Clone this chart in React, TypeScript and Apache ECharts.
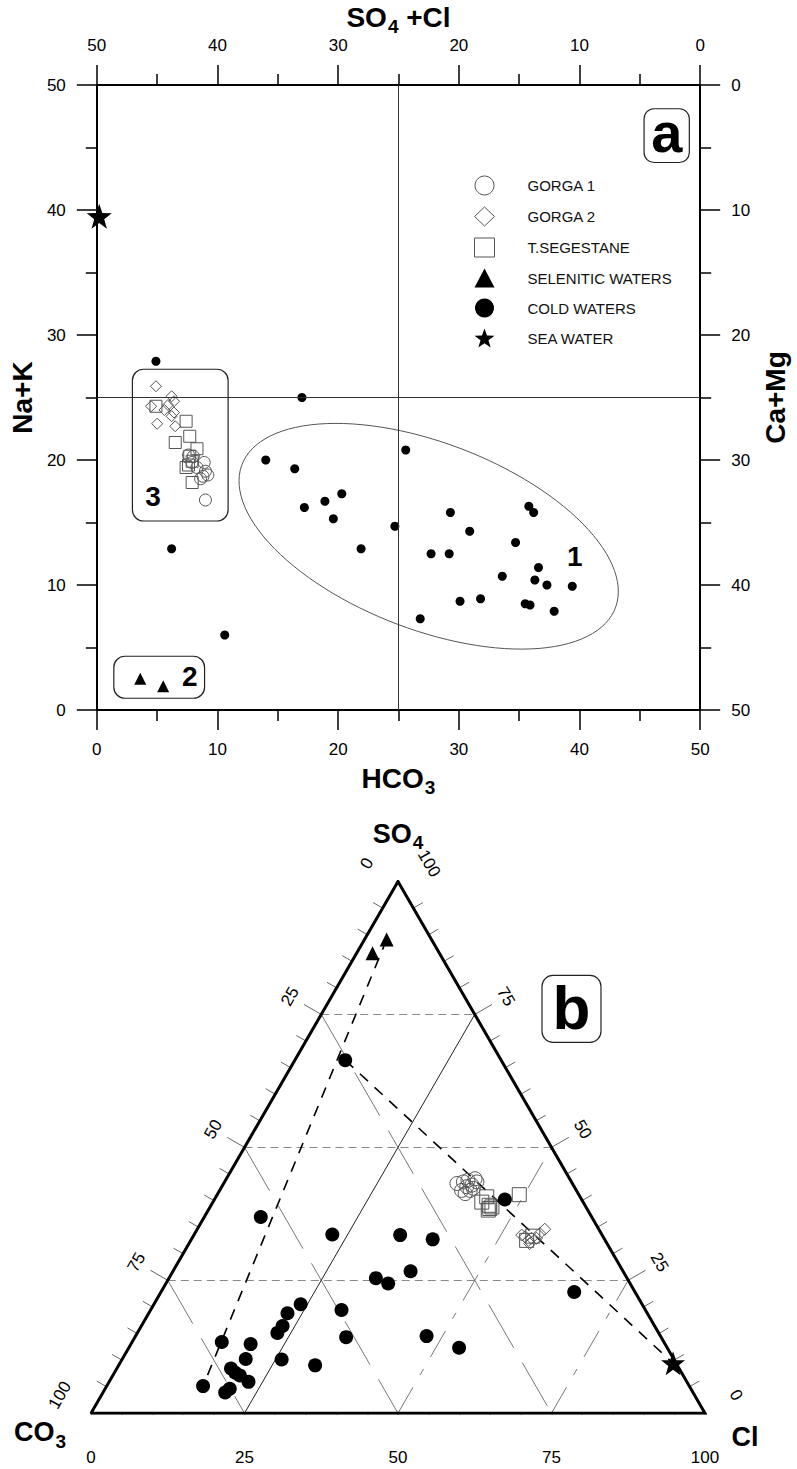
import React, { useEffect, useRef } from "react";
import * as echarts from "echarts";

const FONT = '"Liberation Sans", Arial, Helvetica, sans-serif';

// ---------------- Panel (a): Langelier-Ludwig diagram, points as [HCO3, Na+K] ----------------
const gorga1A = [[7.6, 20.4], [8.0, 20.3], [8.9, 19.8], [9.2, 18.8], [8.8, 18.7], [9.0, 19.1], [9.0, 16.8], [7.9, 19.8], [8.6, 18.5], [8.3, 19.4]];
const gorga2A = [[4.9, 25.9], [6.2, 25.1], [6.4, 24.7], [4.5, 24.3], [5.9, 24.4], [6.4, 23.8], [5.0, 22.9], [6.5, 22.7], [6.2, 23.5], [5.6, 24.0]];
const segestaneA = [[4.9, 24.3], [7.4, 23.1], [7.7, 21.9], [6.5, 21.4], [8.3, 20.9], [7.7, 20.3], [7.9, 19.9], [7.6, 19.6], [7.9, 18.2], [7.4, 19.4]];
const seleniticA = [[3.6, 2.5], [5.5, 1.9]];
const coldA = [
  [4.9, 27.9], [6.2, 12.9], [10.6, 6.0], [14.0, 20.0], [17.0, 25.0],
  [16.4, 19.3], [17.2, 16.2], [18.9, 16.7], [20.3, 17.3], [19.6, 15.3], [21.9, 12.9], [24.7, 14.7],
  [25.6, 20.8], [26.8, 7.3], [27.7, 12.5], [29.2, 12.5], [29.3, 15.8], [30.1, 8.7], [30.9, 14.3],
  [31.8, 8.9], [33.6, 10.7], [34.7, 13.4], [35.8, 16.3], [36.2, 15.8], [36.6, 11.4], [36.3, 10.4],
  [37.3, 10.0], [39.4, 9.9], [35.5, 8.5], [35.9, 8.4], [37.9, 7.9],
];
const seaA = [[0.2, 39.5]];
const axisTicksA = [0, 50]; // min, max of the Langelier-Ludwig square
const quadrantDivider = 25;

// group-1 ellipse annotation (center, semi-axes, tilt) in diagram units
const ellipseCenter = [27.5, 13.9];
const ellipseAxes = [16.5, 7.5];
const ellipseTiltDeg = -20;

// annotation boxes [x1, y1, x2, y2] and group labels [x, y, text]
const boxes = [[2.95, 27.26, 10.88, 15.12], [1.41, 4.3, 8.93, 0.94]];
const groupLabels: [number, number, string][] = [[39.6, 12.3, "1"], [7.7, 2.65, "2"], [4.66, 17.1, "3"]];

// ---------------- Panel (b): ternary diagram, points as [CO3, SO4, Cl] in % ----------------
const gorga1B = [[18.8, 43.2, 38.0], [17.6, 43.5, 38.9], [16.7, 43.8, 39.5], [15.4, 44.1, 40.5], [17.5, 42.6, 39.9], [16.5, 42.9, 40.6], [18.7, 41.9, 39.4], [17.3, 41.9, 40.8], [15.4, 43.5, 41.1], [18.4, 41.3, 40.3], [16.6, 42.3, 41.1]];
const gorga2B = [[12.7, 33.2, 54.1], [12.5, 32.5, 55.0], [11.8, 32.9, 55.3], [11.0, 32.9, 56.1], [10.0, 33.8, 56.2], [8.8, 34.6, 56.6], [12.6, 31.9, 55.5], [13.1, 33.5, 53.4]];
const segestaneB = [[16.5, 39.7, 43.8], [15.6, 39.1, 45.3], [15.8, 38.5, 45.7], [16.2, 38.2, 45.6], [15.3, 38.8, 45.9], [15.2, 40.7, 44.1], [9.7, 41.1, 49.2], [12.8, 32.5, 54.7], [11.4, 33.3, 55.3]];
const seleniticB = [[7.3, 89.1, 3.6], [10.9, 86.5, 2.6]];
const coldB = [
  [25.4, 66.4, 8.2], [53.9, 36.9, 9.2], [43.9, 33.6, 22.5], [32.9, 33.5, 33.6], [28.0, 32.7, 39.3],
  [40.9, 25.4, 33.7], [39.4, 24.4, 36.2], [34.6, 26.7, 38.7], [55.6, 20.5, 23.9], [49.5, 19.4, 31.1],
  [58.6, 18.8, 22.6], [60.6, 16.4, 23.0], [62.1, 15.1, 22.8], [51.3, 14.3, 34.4], [38.1, 14.5, 47.4],
  [33.9, 12.3, 53.8], [72.0, 13.4, 14.6], [67.5, 13.0, 19.5], [69.7, 10.2, 20.1], [63.9, 10.1, 26.0],
  [59.0, 9.0, 32.0], [73.0, 8.4, 18.6], [72.2, 7.1, 20.7], [71.4, 5.9, 22.7], [79.2, 5.1, 15.7],
  [75.1, 4.6, 20.3], [76.2, 3.9, 19.9], [72.7, 7.6, 19.7], [12.5, 40.2, 47.3], [9.9, 22.8, 67.3],
];
const seaB = [[0.5, 9.4, 90.1]];
const mixingLines = [[seleniticB[0], coldB[24]], [coldB[0], seaB[0]]];
const ternaryGrid = [25, 50, 75];
const ternaryTicks = [0, 5, 10, 15, 20, 25, 30, 35, 40, 45, 50, 55, 60, 65, 70, 75, 80, 85, 90, 95, 100];
const ternaryLabels = [0, 25, 50, 75, 100];

const H = Math.sqrt(3) / 2;
const tern = (c: number[]) => [c[2] + c[1] / 2, c[1] * H];

const STAR = "path://M0,-50 L11.8,-16.2 L47.6,-15.5 L19,6.2 L29.4,40.5 L0,20 L-29.4,40.5 L-19,6.2 L-47.6,-15.5 L-11.8,-16.2 Z";
const hollow = { color: "rgba(0,0,0,0)", borderColor: "#555", borderWidth: 1, opacity: 1 };
const solid = { color: "#000", opacity: 1 };

function ellipsePoints() {
  const a = (ellipseTiltDeg * Math.PI) / 180;
  const pts: number[][] = [];
  for (let i = 0; i <= 120; i++) {
    const t = (i / 120) * 2 * Math.PI;
    const u = ellipseAxes[0] * Math.cos(t);
    const v = ellipseAxes[1] * Math.sin(t);
    pts.push([ellipseCenter[0] + u * Math.cos(a) - v * Math.sin(a), ellipseCenter[1] + u * Math.sin(a) + v * Math.cos(a)]);
  }
  return pts;
}

const titleRich = {
  m: { fontSize: 28, fontWeight: "bold", fontFamily: FONT, color: "#000" },
  s: { fontSize: 19, fontWeight: "bold", fontFamily: FONT, color: "#000", padding: [18, 0, 0, 1] },
};

function valueAxis(extra: any) {
  return {
    type: "value",
    min: axisTicksA[0],
    max: axisTicksA[1],
    interval: 10,
    gridIndex: 0,
    axisLine: { lineStyle: { color: "#000", width: 2 } },
    axisTick: { show: true, inside: false, length: 20, lineStyle: { color: "#000", width: 1.5 } },
    minorTick: { show: true, splitNumber: 2, length: 11, lineStyle: { color: "#000", width: 1.5 } },
    splitLine: { show: false },
    axisLabel: { fontSize: 17, fontFamily: FONT, color: "#000", margin: 31 },
    nameLocation: "middle",
    nameTextStyle: { fontSize: 28, fontWeight: "bold", fontFamily: FONT, color: "#000", rich: titleRich },
    ...extra,
  };
}

function buildOption() {
  const tickSeg = (major: boolean) => (major ? 3.26 : 1.8);
  const bottomTicks = ternaryTicks.map((v) => ({ coords: [[v, 0], [v, -tickSeg(v % 25 === 0)]] }));
  const sideTicks: any[] = [];
  ternaryTicks.forEach((v) => {
    const L = tickSeg(v % 25 === 0);
    const pl = tern([v, 100 - v, 0]);
    sideTicks.push({ coords: [pl, [pl[0] - L * H, pl[1] + L * 0.5]] });
    const pr = tern([0, v, 100 - v]);
    sideTicks.push({ coords: [pr, [pr[0] + L * H, pr[1] + L * 0.5]] });
  });
  const gridB = { coordinateSystem: "cartesian2d", xAxisIndex: 2, yAxisIndex: 2, silent: true, animation: false };

  const scatterA = (name: string, data: number[][], symbol: string, size: number, style: any, z = 3) => ({
    type: "scatter", name, data, symbol, symbolSize: size, itemStyle: style, xAxisIndex: 0, yAxisIndex: 0, z, silent: true,
  });
  const scatterB = (name: string, data: number[][], symbol: string, size: number, style: any, z = 5) => ({
    type: "scatter", name, data: data.map(tern), symbol, symbolSize: size, itemStyle: style, xAxisIndex: 2, yAxisIndex: 2, z, silent: true, clip: false,
  });

  return {
    animation: false,
    backgroundColor: "#fff",
    grid: [
      { left: 77, top: 85, width: 626, height: 625 },
      { left: 91, top: 881.5, width: 614, height: 531.7 },
    ],
    xAxis: [
      valueAxis({ position: "bottom", name: "{m|HCO}{s|3}", nameGap: 50 }),
      valueAxis({ position: "top", inverse: true, name: "{m|SO}{s|4}{m| +Cl}", nameGap: 46 }),
      { type: "value", gridIndex: 1, min: 0, max: 100, show: false },
    ],
    yAxis: [
      valueAxis({ position: "left", name: "Na+K", nameRotate: 90, nameGap: 38 }),
      valueAxis({ position: "right", inverse: true, name: "Ca+Mg", nameRotate: 90, nameGap: 52 }),
      { type: "value", gridIndex: 1, min: 0, max: 100 * H, show: false },
    ],
    legend: {
      orient: "vertical",
      left: 469,
      top: 170.5,
      itemWidth: 20,
      itemHeight: 19,
      itemGap: 11,
      selectedMode: false,
      textStyle: { fontSize: 15, fontFamily: FONT, color: "#111", padding: [0, 0, 0, 28] },
      data: [
        { name: "GORGA 1", icon: "circle", itemStyle: hollow },
        { name: "GORGA 2", icon: "diamond", itemStyle: hollow },
        { name: "T.SEGESTANE", icon: "rect", itemStyle: hollow },
        { name: "SELENITIC WATERS", icon: "triangle", itemStyle: solid },
        { name: "COLD WATERS", icon: "circle", itemStyle: solid },
        { name: "SEA WATER", icon: STAR, itemStyle: solid },
      ],
    },
    series: [
      // ---- panel (a)
      {
        type: "line", name: "ellipse", data: ellipsePoints(), showSymbol: false, smooth: false, silent: true,
        xAxisIndex: 0, yAxisIndex: 0, lineStyle: { color: "#555", width: 1 }, z: 1,
        markLine: {
          silent: true, symbol: ["none", "none"], label: { show: false },
          lineStyle: { type: "solid", color: "#333", width: 1 },
          data: [{ xAxis: quadrantDivider }, { yAxis: quadrantDivider }],
        },
      },
      scatterA("GORGA 1", gorga1A, "circle", 12, hollow),
      scatterA("GORGA 2", gorga2A, "diamond", 11, hollow),
      scatterA("T.SEGESTANE", segestaneA, "rect", 12, hollow),
      scatterA("SELENITIC WATERS", seleniticA, "triangle", 12, solid),
      scatterA("COLD WATERS", coldA, "circle", 9, solid),
      scatterA("SEA WATER", seaA, STAR, 25, solid),
      // ---- panel (b) frame and grid
      { ...gridB, type: "lines", lineStyle: { color: "#888", width: 1, opacity: 1, type: [8, 5] }, z: 1,
        data: ternaryGrid.map((v) => ({ coords: [tern([100 - v, v, 0]), tern([0, v, 100 - v])] })) },
      { ...gridB, type: "lines", lineStyle: { color: "#777", width: 1, opacity: 1, type: [50, 17] }, z: 1,
        data: ternaryGrid.map((v) => ({ coords: [tern([v, 100 - v, 0]), tern([v, 0, 100 - v])] })) },
      { ...gridB, type: "lines", lineStyle: { color: "#777", width: 1, opacity: 1, type: [30, 14, 7, 14] }, z: 1,
        data: ternaryGrid.filter((v) => v !== 25).map((v) => ({ coords: [tern([100 - v, 0, v]), tern([0, 100 - v, v])] })) },
      { ...gridB, type: "lines", lineStyle: { color: "#222", width: 1, opacity: 1, type: "solid" }, z: 1,
        data: [{ coords: [tern([75, 0, 25]), tern([0, 75, 25])] }] },
      { ...gridB, type: "lines", lineStyle: { color: "#000", width: 1.6, opacity: 1, type: [11, 9] }, z: 2,
        data: mixingLines.map((p) => ({ coords: [tern(p[0]), tern(p[1])] })) },
      { ...gridB, type: "lines", lineStyle: { color: "#666", width: 1, opacity: 1 }, z: 1, data: sideTicks },
      { ...gridB, type: "lines", lineStyle: { color: "#000", width: 2, opacity: 1 }, z: 2, data: bottomTicks },
      { ...gridB, type: "lines", polyline: true, lineStyle: { color: "#000", width: 3, opacity: 1 }, z: 3,
        data: [{ coords: [tern([100, 0, 0]), tern([0, 0, 100]), tern([0, 100, 0]), tern([100, 0, 0])] }] },
      // ---- panel (b) points
      scatterB("GORGA 1", gorga1B, "circle", 14, hollow),
      scatterB("GORGA 2", gorga2B, "diamond", 12, hollow),
      scatterB("T.SEGESTANE", segestaneB, "rect", 14, hollow),
      scatterB("SELENITIC WATERS", seleniticB, "triangle", 14, solid),
      scatterB("COLD WATERS", coldB, "circle", 14, solid),
      scatterB("SEA WATER", seaB, STAR, 24, solid),
    ],
  };
}

function txt(text: string, x: number, y: number, size: number, opts: any = {}) {
  return {
    type: "text", x, y, rotation: opts.rot || 0, silent: true, z: 20,
    style: {
      text, fill: "#000", fontSize: size, fontWeight: opts.bold ? "bold" : "normal", fontFamily: FONT,
      align: opts.align || "center", verticalAlign: "middle", textAlign: opts.align || "center", textVerticalAlign: "middle",
      rich: opts.rich,
    },
  };
}

function roundBox(p1: number[], p2: number[], r: number) {
  return {
    type: "rect", silent: true, z: 10,
    shape: { x: Math.min(p1[0], p2[0]), y: Math.min(p1[1], p2[1]), width: Math.abs(p2[0] - p1[0]), height: Math.abs(p2[1] - p1[1]), r },
    style: { fill: "none", stroke: "#222", lineWidth: 1.2 },
  };
}

export default function App() {
  const ref = useRef<HTMLDivElement>(null);
  useEffect(() => {
    if (!ref.current) return;
    const chart = echarts.init(ref.current, null, { renderer: "svg" });
    chart.setOption(buildOption());
    const pa = (p: number[]) => chart.convertToPixel({ gridIndex: 0 }, p) as number[];
    const pb = (p: number[]) => chart.convertToPixel({ gridIndex: 1 }, p) as number[];
    const g: any[] = [];
    boxes.forEach((b) => g.push(roundBox(pa([b[0], b[1]]), pa([b[2], b[3]]), 11)));
    groupLabels.forEach(([x, y, t]) => {
      const p = pa([x, y]);
      g.push(txt(t, p[0], p[1], 28, { bold: true }));
    });
    // panel letters
    const aBox = [pa([45.35, 48.1]), pa([49.1, 43.8])];
    g.push(roundBox(aBox[0], aBox[1], 10));
    g.push(txt("a", (aBox[0][0] + aBox[1][0]) / 2, (aBox[0][1] + aBox[1][1]) / 2 - 3, 56, { bold: true }));
    const bBox = [pb([73.45, 71.3]), pb([83.06, 60.4])];
    g.push(roundBox(bBox[0], bBox[1], 11));
    g.push(txt("b", (bBox[0][0] + bBox[1][0]) / 2, (bBox[0][1] + bBox[1][1]) / 2 - 1, 62, { bold: true }));
    // ternary tick labels
    const OFF = 36;
    ternaryLabels.forEach((v) => {
      const b = pb(tern([100 - v, 0, v]));
      g.push(txt(String(v), b[0], b[1] + 44, 17));
      const l = pb(tern([v, 100 - v, 0]));
      g.push(txt(String(v), l[0] - OFF * H, l[1] - OFF * 0.5, 17, { rot: Math.PI / 3 }));
      const r = pb(tern([0, v, 100 - v]));
      g.push(txt(String(v), r[0] + OFF * H, r[1] - OFF * 0.5, 17, { rot: -Math.PI / 3 }));
    });
    // ternary corner titles
    const rich = {
      m: { fontSize: 27, fontWeight: "bold", fontFamily: FONT, fill: "#000", color: "#000" },
      s: { fontSize: 19, fontWeight: "bold", fontFamily: FONT, fill: "#000", color: "#000", padding: [18, 0, 0, 1] },
    };
    const apex = pb(tern([0, 100, 0]));
    g.push(txt("{m|SO}{s|4}", apex[0], apex[1] - 48, 27, { bold: true, rich }));
    const left = pb(tern([100, 0, 0]));
    g.push(txt("{m|CO}{s|3}", left[0] - 51, left[1] + 19, 27, { bold: true, rich }));
    const right = pb(tern([0, 0, 100]));
    g.push(txt("{m|Cl}", right[0] + 40, right[1] + 24, 27, { bold: true, rich }));
    chart.setOption({ graphic: { elements: g } });
    return () => chart.dispose();
  }, []);
  return <div ref={ref} style={{ position: "absolute", left: 0, top: 0, width: 797, height: 1469 }} />;
}
